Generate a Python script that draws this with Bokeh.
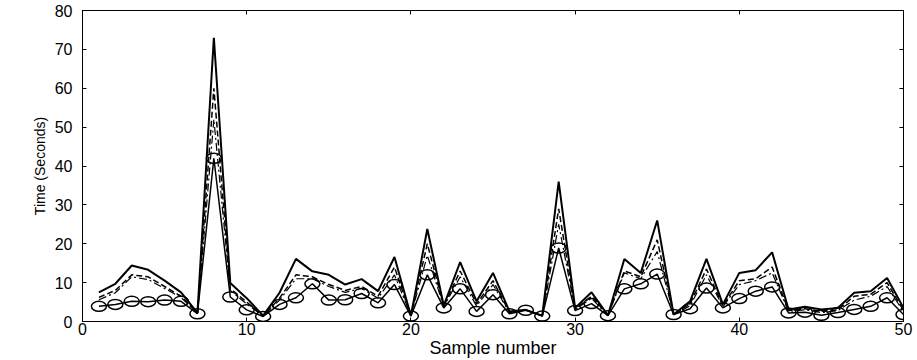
from bokeh.plotting import figure
from bokeh.models import LinearAxis, FixedTicker, Range1d, CustomJSTickFormatter
from bokeh.embed import file_html
from bokeh.resources import INLINE

samples = list(range(1, 51))

solid = [7.5, 9.7, 14.4, 13.3, 10.5, 7.5, 2.2, 73, 9.9, 6, 1.5,
         7.4, 16.1, 12.9, 12, 9.5, 10.9, 7.8, 16.6,
         1.5, 23.8, 4.1, 15.3, 5.2, 12.5, 2.6, 3, 1.5,
         36, 3.5, 7.5, 1.6, 16.1, 12.5, 26, 1.8, 5.2,
         16.1, 4.4, 12.5, 13.2, 17.8, 3.1, 3.8, 3.1, 3.5,
         7.4, 7.8, 11.2, 3.5]
dashed = [6.2, 8, 12, 11.5, 9, 6.5, 2.1, 60, 8.5, 5, 1.4,
          6, 12, 11.5, 9.5, 8, 9, 6.5, 14,
          1.5, 20, 3.9, 13, 4.5, 10.5, 2.4, 3, 1.5,
          29, 3.2, 6.5, 1.6, 13, 11.5, 21, 1.8, 4.5,
          13.5, 4, 10.5, 11, 14, 2.8, 3.3, 2.6, 3,
          6.5, 7, 10, 2.8]
dashdot = [5.6, 7.4, 11.5, 10.8, 8.5, 6.2, 2.1, 52, 8, 4.5, 1.4,
           5.5, 11, 11, 9, 7.5, 8.5, 6, 12,
           1.5, 17, 3.8, 11.5, 4, 9.5, 2.3, 3, 1.4,
           25, 3, 6, 1.5, 12.5, 11, 18, 1.8, 4,
           12, 3.8, 9.5, 10.5, 12.5, 2.6, 3, 2.3, 2.8,
           5.5, 6.5, 9, 2.5]
circles = [3.9, 4.4, 5.2, 5.1, 5.5, 5.2, 2.0, 42, 6.3, 3.0, 1.3,
           4.4, 6.1, 9.7, 5.5, 5.6, 7.2, 4.8, 9.5,
           1.4, 12, 3.5, 8.4, 2.6, 6.9, 2, 2.9, 1.4,
           18.9, 2.8, 4.6, 1.5, 8.4, 9.7, 12.2, 1.8, 3.3,
           8.6, 3.5, 5.9, 7.8, 8.9, 2.2, 2.4, 1.6, 2.3,
           3.1, 3.9, 6.1, 1.8]

x_ticks = [0, 10, 20, 30, 40, 50]
y_ticks = [0, 10, 20, 30, 40, 50, 60, 70, 80]

p = figure(width=917, height=360, output_backend="svg", toolbar_location=None,
           x_range=Range1d(0, 50), y_range=Range1d(0, 80),
           min_border_left=82, min_border_right=14, min_border_top=10,
           min_border_bottom=38)
p.grid.visible = False
p.outline_line_color = "black"
p.outline_line_width = 1
p.background_fill_color = "white"
p.border_fill_color = "white"

font = "Liberation Sans"
for ax in (p.xaxis[0], p.yaxis[0]):
    ax.axis_line_color = "black"
    ax.major_tick_in = 4
    ax.major_tick_out = 0
    ax.minor_tick_line_color = None
    ax.major_label_text_font = font
    ax.major_label_text_font_size = "16px"
    ax.major_label_text_color = "black"
    ax.axis_label_text_font = font
    ax.axis_label_text_font_style = "normal"
    ax.axis_label_text_color = "black"
p.xaxis[0].ticker = FixedTicker(ticks=x_ticks)
p.yaxis[0].ticker = FixedTicker(ticks=y_ticks)
p.xaxis[0].axis_label = "Sample number"
p.xaxis[0].axis_label_text_font_size = "18px"
p.xaxis[0].axis_label_standoff = 0
p.xaxis[0].major_label_standoff = 1
p.yaxis[0].axis_label = "Time (Seconds)"
p.yaxis[0].axis_label_text_font_size = "14px"
p.yaxis[0].axis_label_standoff = 4
p.yaxis[0].major_label_standoff = 10

# box ticks on right and top (no labels)
blank = CustomJSTickFormatter(code="return '';")
for loc, tk in (("right", y_ticks), ("above", x_ticks)):
    ax = LinearAxis(ticker=FixedTicker(ticks=tk), formatter=blank)
    ax.major_tick_in = 4
    ax.major_tick_out = 0
    ax.minor_tick_line_color = None
    ax.major_label_standoff = 0
    ax.axis_line_color = "black"
    p.add_layout(ax, loc)

p.line(samples, solid, line_color="black", line_width=2)
p.line(samples, dashed, line_color="black", line_width=1.5, line_dash="6 3")
p.line(samples, dashdot, line_color="black", line_width=1.2, line_dash="8 3 2 3")
p.line(samples, circles, line_color="black", line_width=1.5)
p.ellipse(samples, circles, width=15, height=10, width_units="screen",
          height_units="screen", fill_color=None, line_color="black", line_width=1.5)

open("out.html", "w").write(file_html(p, INLINE))
